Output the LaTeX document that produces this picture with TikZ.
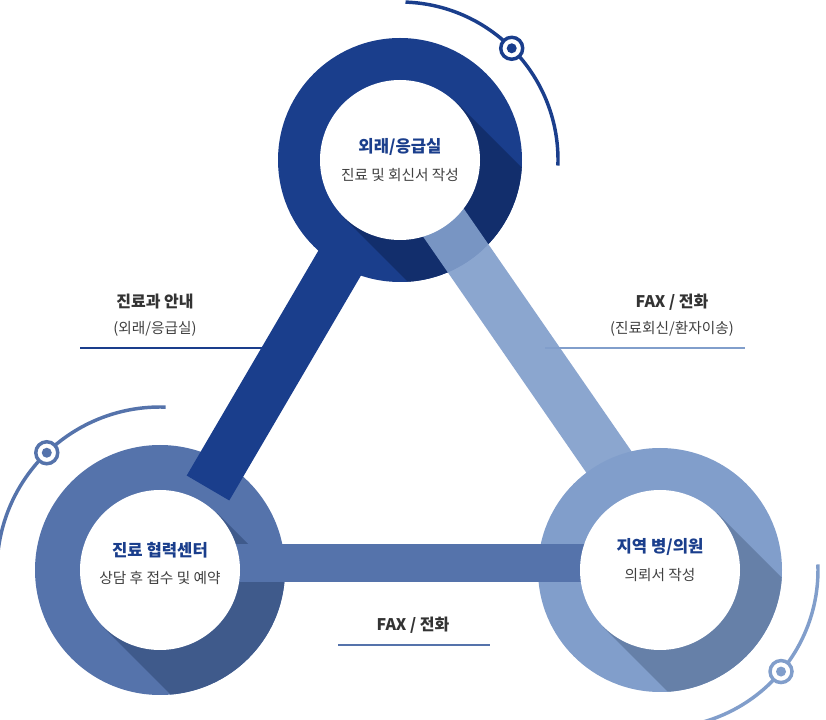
\documentclass[tikz,border=0pt]{standalone}
\usepackage{fontspec}
\usetikzlibrary{calc}
\setmainfont{Noto Sans CJK KR}
\begin{document}
\begin{tikzpicture}[x=0.75pt,y=-0.75pt,
  ttl/.style={font=\bfseries\fontsize{12.5}{14}\selectfont,text=c1},
  sub/.style={font=\fontsize{11}{13}\selectfont,text=black!75},
  lbl/.style={font=\bfseries\fontsize{12}{14}\selectfont,text=black!80},
  tgt/.style={line width=2.6pt,fill=white}]
\definecolor{c1}{HTML}{1A3E8C}\definecolor{s1}{HTML}{122E6C}
\definecolor{c2}{HTML}{5573AB}\definecolor{s2}{HTML}{3F5A8B}
\definecolor{c3}{HTML}{819ECB}\definecolor{s3}{HTML}{6680A8}
\useasboundingbox (0,0) rectangle (826,720);
\coordinate (T) at (400,160);
\coordinate (L) at (160,570);
\coordinate (R) at (660,570);
% decorative arcs
\draw[c1,line width=2.6pt] (T) ++(-88:158) arc[start angle=-88,end angle=2,radius=158];
\draw[c2,line width=2.6pt] (L) ++(-88:163) arc[start angle=-88,end angle=-183,radius=163];
\draw[c3,line width=2.6pt] (R) ++(-2:158) arc[start angle=-2,end angle=92,radius=158];
\foreach \c/\a/\r/\col in {T/-45/158/c1,L/-134/163/c2,R/40/158/c3}{
  \draw[tgt,draw=\col] (\c) ++(\a:\r) circle[radius=11];
  \fill[\col] (\c) ++(\a:\r) circle[radius=5];}
% rings with shadows
\foreach \c/\col/\sh/\ro in {T/c1/s1/122,L/c2/s2/125,R/c3/s3/122}{
  \fill[\col] (\c) circle[radius=\ro];
  \begin{scope}
  \clip (\c) circle[radius=\ro];
  \fill[\sh] ($(\c)+(57,-57)$) -- ($(\c)+(-57,57)$) -- ($(\c)+(143,257)$) -- ($(\c)+(257,143)$) -- cycle;
  \end{scope}}
% bars
\draw[c1,line width=37pt] ($(T)!0.25!(L)$) -- ($(T)!0.8!(L)$);
\draw[c3,line width=37pt,opacity=0.92] ($(T)+(25,36)$) -- ($(T)+(220,318)$);
\draw[c2,line width=28pt] (230,563) -- (590,563);
\foreach \c in {T,L,R} \fill[white] (\c) circle[radius=80];
% texts
\node[ttl] (t1) at (400,147) {외래/응급실};
\node[sub] (t2) at (400,175) {진료 및 회신서 작성};
\node[ttl] (l1) at (160,550) {진료 협력센터};
\node[sub] (l2) at (160,578) {상담 후 접수 및 예약};
\node[ttl] (r1) at (660,547) {지역 병/의원};
\node[sub] (r2) at (660,575) {의뢰서 작성};
\node[lbl] (a1) at (155,302) {진료과 안내};
\node[sub] (a2) at (155,329) {(외래/응급실)};
\draw[c1,line width=1pt] (80,348) -- (270,348);
\node[lbl] (b1) at (672,302) {FAX / 전화};
\node[sub] (b2) at (672,329) {(진료회신/환자이송)};
\draw[c3,line width=1pt] (545,348) -- (745,348);
\node[lbl] (d1) at (413,625) {FAX / 전화};
\draw[c2,line width=1pt] (338,645) -- (490,645);
\end{tikzpicture}
\end{document}
